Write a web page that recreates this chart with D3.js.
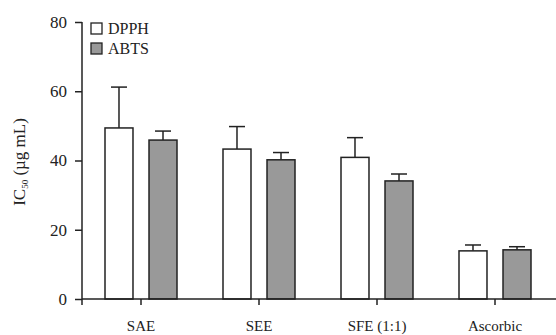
<!DOCTYPE html>
<html>
  <head>
    <meta charset="utf-8">
    <script src="https://d3js.org/d3.v7.min.js"></script>
    <style>
      body { margin: 0; background: #fff; }
      text { font-family: "Liberation Serif", "DejaVu Serif", serif; fill: #222; }
    </style>
  </head>
  <body>
    <script>
      var categories = ["SAE", "SEE", "SFE (1:1)", "Ascorbic"];
      var series = ["DPPH", "ABTS"];
      var dpph = [49.4, 43.3, 40.9, 13.9];
      var dpphErr = [11.8, 6.5, 5.7, 1.7];
      var abts = [45.9, 40.2, 34.1, 14.2];
      var abtsErr = [2.6, 2.1, 2.0, 0.9];
      var yTicks = [0, 20, 40, 60, 80];
      var colors = {DPPH: "#ffffff", ABTS: "#999999"};

      var width = 556, height = 335;
      var svg = d3.select("body").append("svg")
        .attr("width", width)
        .attr("height", height);

      var x0 = d3.scaleBand().domain(categories).range([82, 554]);
      var x1 = d3.scaleBand().domain(series).range([23, 95]).paddingInner(0.364);
      var y = d3.scaleLinear().domain([0, 80]).range([299, 22]);

      var rows = categories.map(function(c, i) {
        return [
          {cat: c, s: "DPPH", v: dpph[i], e: dpphErr[i]},
          {cat: c, s: "ABTS", v: abts[i], e: abtsErr[i]}
        ];
      });

      // error bars first so the bar covers the lower half
      var bars = svg.append("g");
      rows.forEach(function(r) {
        r.forEach(function(d) {
          var cx = x0(d.cat) + x1(d.s) + x1.bandwidth() / 2;
          bars.append("line")
            .attr("x1", cx).attr("x2", cx)
            .attr("y1", y(d.v)).attr("y2", y(d.v + d.e))
            .attr("stroke", "#222").attr("stroke-width", 1.5);
          bars.append("line")
            .attr("x1", cx - 8).attr("x2", cx + 8)
            .attr("y1", y(d.v + d.e)).attr("y2", y(d.v + d.e))
            .attr("stroke", "#222").attr("stroke-width", 1.5);
          bars.append("rect")
            .attr("x", x0(d.cat) + x1(d.s))
            .attr("y", y(d.v))
            .attr("width", x1.bandwidth())
            .attr("height", y(0) - y(d.v))
            .attr("fill", colors[d.s])
            .attr("stroke", "#222")
            .attr("stroke-width", 1.5);
        });
      });

      // y axis
      var yAxis = svg.append("g")
        .attr("transform", "translate(82,0)")
        .call(d3.axisLeft(y).tickValues(yTicks).tickSize(7).tickPadding(8));
      yAxis.attr("font-family", "Liberation Serif, serif");
      yAxis.select(".domain").attr("stroke", "#222").attr("stroke-width", 1.5)
        .attr("d", "M0," + y(80) + "V" + y(0));
      yAxis.selectAll(".tick line").attr("stroke", "#222").attr("stroke-width", 1.5);
      yAxis.selectAll(".tick text").style("font-size", "17px")
        .style("font-family", "Liberation Serif, serif").attr("fill", "#222");

      // x axis
      var xAxis = svg.append("g")
        .attr("transform", "translate(0," + y(0) + ")")
        .call(d3.axisBottom(x0).tickSize(6).tickPadding(15));
      xAxis.attr("font-family", "Liberation Serif, serif");
      xAxis.select(".domain").attr("stroke", "#222").attr("stroke-width", 1.5)
        .attr("d", "M82,0H556");
      xAxis.selectAll(".tick line").attr("stroke", "#222").attr("stroke-width", 1.5);
      xAxis.selectAll(".tick text").style("font-size", "15px")
        .style("font-family", "Liberation Serif, serif").attr("fill", "#222");
      xAxis.append("line")
        .attr("x1", 82).attr("x2", 82).attr("y1", 0).attr("y2", 6)
        .attr("stroke", "#222").attr("stroke-width", 1.5);

      // y label
      var ylab = svg.append("text")
        .attr("transform", "translate(25,162) rotate(-90)")
        .attr("text-anchor", "middle")
        .style("font-size", "17px");
      ylab.append("tspan").text("IC");
      ylab.append("tspan").text("50").attr("dy", 3).style("font-size", "9px");
      ylab.append("tspan").text(" (µg mL)").attr("dy", -3);

      // legend
      var legend = svg.append("g");
      series.forEach(function(s, i) {
        legend.append("rect")
          .attr("x", 91).attr("y", 23 + i * 20)
          .attr("width", 11).attr("height", 11)
          .attr("fill", colors[s]).attr("stroke", "#222").attr("stroke-width", 1.3);
        legend.append("text")
          .attr("x", 108).attr("y", 34 + i * 20)
          .style("font-size", "16px")
          .text(s);
      });
    </script>
  </body>
</html>
